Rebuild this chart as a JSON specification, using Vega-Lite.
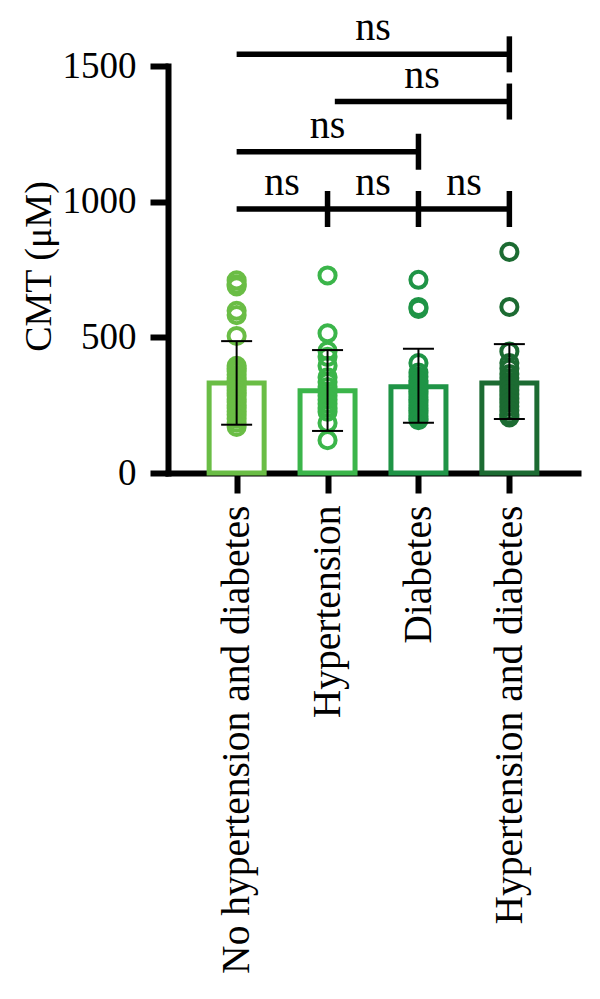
{
  "$schema": "https://vega.github.io/schema/vega-lite/v6.json",
  "autosize": "none",
  "width": 410,
  "height": 407,
  "padding": {"left": 168, "top": 66, "right": 22, "bottom": 526},
  "background": "white",
  "config": {
    "font": "Liberation Serif",
    "view": {"stroke": null},
    "axis": {"grid": false, "domainColor": "black", "tickColor": "black", "labelColor": "black", "titleColor": "black", "labelFont": "Liberation Serif", "titleFont": "Liberation Serif", "titleFontWeight": "normal"}
  },
  "datasets": {
    "bars": [
      {"group": "No hypertension and diabetes", "pos": 1, "mean": 332, "lo": 178, "hi": 486},
      {"group": "Hypertension", "pos": 2, "mean": 303, "lo": 155, "hi": 453},
      {"group": "Diabetes", "pos": 3, "mean": 318, "lo": 185, "hi": 458},
      {"group": "Hypertension and diabetes", "pos": 4, "mean": 332, "lo": 199, "hi": 475}
    ],
    "points": [
      {"group": "No hypertension and diabetes", "pos": 1, "cmt": 710},
      {"group": "No hypertension and diabetes", "pos": 1, "cmt": 695},
      {"group": "No hypertension and diabetes", "pos": 1, "cmt": 688},
      {"group": "No hypertension and diabetes", "pos": 1, "cmt": 598},
      {"group": "No hypertension and diabetes", "pos": 1, "cmt": 582},
      {"group": "No hypertension and diabetes", "pos": 1, "cmt": 505},
      {"group": "No hypertension and diabetes", "pos": 1, "cmt": 395},
      {"group": "No hypertension and diabetes", "pos": 1, "cmt": 385},
      {"group": "No hypertension and diabetes", "pos": 1, "cmt": 375},
      {"group": "No hypertension and diabetes", "pos": 1, "cmt": 362},
      {"group": "No hypertension and diabetes", "pos": 1, "cmt": 350},
      {"group": "No hypertension and diabetes", "pos": 1, "cmt": 340},
      {"group": "No hypertension and diabetes", "pos": 1, "cmt": 330},
      {"group": "No hypertension and diabetes", "pos": 1, "cmt": 318},
      {"group": "No hypertension and diabetes", "pos": 1, "cmt": 305},
      {"group": "No hypertension and diabetes", "pos": 1, "cmt": 295},
      {"group": "No hypertension and diabetes", "pos": 1, "cmt": 285},
      {"group": "No hypertension and diabetes", "pos": 1, "cmt": 272},
      {"group": "No hypertension and diabetes", "pos": 1, "cmt": 262},
      {"group": "No hypertension and diabetes", "pos": 1, "cmt": 250},
      {"group": "No hypertension and diabetes", "pos": 1, "cmt": 240},
      {"group": "No hypertension and diabetes", "pos": 1, "cmt": 228},
      {"group": "No hypertension and diabetes", "pos": 1, "cmt": 215},
      {"group": "No hypertension and diabetes", "pos": 1, "cmt": 200},
      {"group": "No hypertension and diabetes", "pos": 1, "cmt": 185},
      {"group": "No hypertension and diabetes", "pos": 1, "cmt": 170},
      {"group": "Hypertension", "pos": 2, "cmt": 728},
      {"group": "Hypertension", "pos": 2, "cmt": 515},
      {"group": "Hypertension", "pos": 2, "cmt": 450},
      {"group": "Hypertension", "pos": 2, "cmt": 428},
      {"group": "Hypertension", "pos": 2, "cmt": 395},
      {"group": "Hypertension", "pos": 2, "cmt": 353},
      {"group": "Hypertension", "pos": 2, "cmt": 335},
      {"group": "Hypertension", "pos": 2, "cmt": 317},
      {"group": "Hypertension", "pos": 2, "cmt": 300},
      {"group": "Hypertension", "pos": 2, "cmt": 285},
      {"group": "Hypertension", "pos": 2, "cmt": 270},
      {"group": "Hypertension", "pos": 2, "cmt": 255},
      {"group": "Hypertension", "pos": 2, "cmt": 240},
      {"group": "Hypertension", "pos": 2, "cmt": 226},
      {"group": "Hypertension", "pos": 2, "cmt": 184},
      {"group": "Hypertension", "pos": 2, "cmt": 121},
      {"group": "Diabetes", "pos": 3, "cmt": 712},
      {"group": "Diabetes", "pos": 3, "cmt": 612},
      {"group": "Diabetes", "pos": 3, "cmt": 605},
      {"group": "Diabetes", "pos": 3, "cmt": 405},
      {"group": "Diabetes", "pos": 3, "cmt": 370},
      {"group": "Diabetes", "pos": 3, "cmt": 355},
      {"group": "Diabetes", "pos": 3, "cmt": 340},
      {"group": "Diabetes", "pos": 3, "cmt": 330},
      {"group": "Diabetes", "pos": 3, "cmt": 320},
      {"group": "Diabetes", "pos": 3, "cmt": 310},
      {"group": "Diabetes", "pos": 3, "cmt": 300},
      {"group": "Diabetes", "pos": 3, "cmt": 290},
      {"group": "Diabetes", "pos": 3, "cmt": 280},
      {"group": "Diabetes", "pos": 3, "cmt": 270},
      {"group": "Diabetes", "pos": 3, "cmt": 260},
      {"group": "Diabetes", "pos": 3, "cmt": 250},
      {"group": "Diabetes", "pos": 3, "cmt": 240},
      {"group": "Diabetes", "pos": 3, "cmt": 230},
      {"group": "Diabetes", "pos": 3, "cmt": 220},
      {"group": "Diabetes", "pos": 3, "cmt": 210},
      {"group": "Diabetes", "pos": 3, "cmt": 200},
      {"group": "Diabetes", "pos": 3, "cmt": 195},
      {"group": "Hypertension and diabetes", "pos": 4, "cmt": 815},
      {"group": "Hypertension and diabetes", "pos": 4, "cmt": 612},
      {"group": "Hypertension and diabetes", "pos": 4, "cmt": 448},
      {"group": "Hypertension and diabetes", "pos": 4, "cmt": 405},
      {"group": "Hypertension and diabetes", "pos": 4, "cmt": 385},
      {"group": "Hypertension and diabetes", "pos": 4, "cmt": 365},
      {"group": "Hypertension and diabetes", "pos": 4, "cmt": 350},
      {"group": "Hypertension and diabetes", "pos": 4, "cmt": 335},
      {"group": "Hypertension and diabetes", "pos": 4, "cmt": 320},
      {"group": "Hypertension and diabetes", "pos": 4, "cmt": 305},
      {"group": "Hypertension and diabetes", "pos": 4, "cmt": 290},
      {"group": "Hypertension and diabetes", "pos": 4, "cmt": 275},
      {"group": "Hypertension and diabetes", "pos": 4, "cmt": 260},
      {"group": "Hypertension and diabetes", "pos": 4, "cmt": 245},
      {"group": "Hypertension and diabetes", "pos": 4, "cmt": 230},
      {"group": "Hypertension and diabetes", "pos": 4, "cmt": 215},
      {"group": "Hypertension and diabetes", "pos": 4, "cmt": 205}
    ],
    "brackets": [
      {"from": 1, "to": 4, "level": 1543, "label": "ns"},
      {"from": 2.08, "to": 4, "level": 1369, "label": "ns"},
      {"from": 1, "to": 3, "level": 1184, "label": "ns"},
      {"from": 1, "to": 2, "level": 973, "label": "ns"},
      {"from": 2, "to": 3, "level": 973, "label": "ns"},
      {"from": 3, "to": 4, "level": 973, "label": "ns"}
    ]
  },
  "layer": [
    {
      "data": {"name": "bars"},
      "mark": {"type": "bar", "width": 55, "fill": "white", "strokeWidth": 5},
      "encoding": {
        "x": {
          "field": "pos", "type": "quantitative",
          "scale": {"domain": [0.3, 4.7], "nice": false, "zero": false},
          "axis": {
            "title": null, "values": [1, 2, 3, 4],
            "labelExpr": "['No hypertension and diabetes','Hypertension','Diabetes','Hypertension and diabetes'][datum.value - 1]",
            "labelAngle": 270, "labelAlign": "right", "labelBaseline": "middle",
            "labelFontSize": 39.5, "labelPadding": 12, "labelOverlap": false, "labelFlush": false, "labelBound": false, "labelLimit": 0,
            "domainWidth": 6, "domainCap": "square", "tickWidth": 6, "tickSize": 20
          }
        },
        "y": {
          "field": "mean", "type": "quantitative",
          "scale": {"domain": [0, 1500], "nice": false},
          "axis": {
            "title": "CMT (μM)", "values": [0, 500, 1000, 1500], "format": "d",
            "labelFontSize": 37, "labelPadding": 14, "labelFlush": false,
            "titleFontSize": 38, "titleAngle": 270, "titleX": -129, "titleY": 200, "titleAlign": "center", "titleBaseline": "middle",
            "domainWidth": 6, "domainCap": "square", "tickWidth": 6, "tickSize": 18
          }
        },
        "stroke": {
          "field": "group", "type": "nominal",
          "scale": {"domain": ["No hypertension and diabetes", "Hypertension", "Diabetes", "Hypertension and diabetes"], "range": ["#6abd45", "#3bb54a", "#1f9446", "#1c6b32"]},
          "legend": null
        }
      }
    },
    {
      "data": {"name": "points"},
      "mark": {"type": "point", "shape": "circle", "filled": false, "size": 260, "strokeWidth": 4, "opacity": 1},
      "encoding": {
        "x": {"field": "pos", "type": "quantitative"},
        "y": {"field": "cmt", "type": "quantitative"},
        "stroke": {"field": "group", "type": "nominal", "legend": null}
      }
    },
    {
      "data": {"name": "bars"},
      "mark": {"type": "rule", "color": "black", "strokeWidth": 2},
      "encoding": {
        "x": {"field": "pos", "type": "quantitative"},
        "y": {"field": "lo", "type": "quantitative"},
        "y2": {"field": "hi"}
      }
    },
    {
      "data": {"name": "bars"},
      "mark": {"type": "tick", "orient": "horizontal", "color": "black", "opacity": 1, "size": 31, "thickness": 2},
      "encoding": {
        "x": {"field": "pos", "type": "quantitative"},
        "y": {"field": "lo", "type": "quantitative"}
      }
    },
    {
      "data": {"name": "bars"},
      "mark": {"type": "tick", "orient": "horizontal", "color": "black", "opacity": 1, "size": 31, "thickness": 2},
      "encoding": {
        "x": {"field": "pos", "type": "quantitative"},
        "y": {"field": "hi", "type": "quantitative"}
      }
    },
    {
      "data": {"name": "brackets"},
      "mark": {"type": "rule", "color": "black", "strokeWidth": 5.5},
      "encoding": {
        "x": {"field": "from", "type": "quantitative"},
        "x2": {"field": "to"},
        "y": {"field": "level", "type": "quantitative"}
      }
    },
    {
      "data": {"name": "brackets"},
      "mark": {"type": "tick", "orient": "vertical", "color": "black", "opacity": 1, "size": 36, "thickness": 5.5},
      "encoding": {
        "x": {"field": "to", "type": "quantitative"},
        "y": {"field": "level", "type": "quantitative"}
      }
    },
    {
      "data": {"name": "brackets"},
      "transform": [{"calculate": "(datum.from + datum.to) / 2", "as": "mid"}],
      "mark": {"type": "text", "fontSize": 40, "baseline": "alphabetic", "dy": -14, "color": "black", "font": "Liberation Serif"},
      "encoding": {
        "x": {"field": "mid", "type": "quantitative"},
        "y": {"field": "level", "type": "quantitative"},
        "text": {"field": "label"}
      }
    }
  ]
}
